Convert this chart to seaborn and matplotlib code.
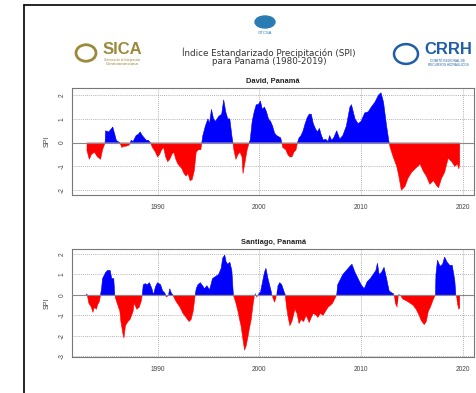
import numpy as np
import pandas as pd
import seaborn as sns
import matplotlib.pyplot as plt
from matplotlib.lines import Line2D
from matplotlib.patches import Circle, Ellipse

# SPI values (decimal year, SPI)
david_year = [1983.05, 1983.3, 1983.5, 1983.8, 1984.1, 1984.4, 1984.6, 1984.85, 1984.9, 1985.2,
              1985.5, 1985.6, 1985.8, 1985.95, 1986.1, 1986.3, 1986.5, 1986.7, 1986.9, 1987.2,
              1987.35, 1987.4, 1987.6, 1987.9, 1988.1, 1988.3, 1988.5, 1988.7, 1988.9, 1989.1,
              1989.3, 1989.5, 1989.8, 1990.0, 1990.2, 1990.4, 1990.6, 1990.8, 1991.0, 1991.2,
              1991.4, 1991.6, 1991.8, 1992.0, 1992.2, 1992.4, 1992.6, 1992.8, 1993.0, 1993.2,
              1993.4, 1993.6, 1993.8, 1994.0, 1994.25, 1994.35, 1994.45, 1994.7, 1994.95, 1995.1,
              1995.3, 1995.5, 1995.7, 1996.0, 1996.3, 1996.5, 1996.7, 1996.9, 1997.1, 1997.3,
              1997.4, 1997.5, 1997.7, 1997.9, 1998.1, 1998.3, 1998.4, 1998.6, 1998.8, 1999.0,
              1999.1, 1999.3, 1999.5, 1999.7, 1999.9, 2000.1, 2000.3, 2000.5, 2000.7, 2000.9,
              2001.1, 2001.3, 2001.5, 2001.7, 2001.9, 2002.1, 2002.2, 2002.3, 2002.6, 2002.8,
              2003.0, 2003.2, 2003.4, 2003.6, 2003.75, 2003.9, 2004.1, 2004.3, 2004.5, 2004.7,
              2004.9, 2005.1, 2005.3, 2005.5, 2005.7, 2005.9, 2006.1, 2006.3, 2006.5, 2006.75,
              2006.9, 2007.1, 2007.3, 2007.6, 2007.9, 2008.2, 2008.55, 2008.9, 2009.05, 2009.4,
              2009.7, 2010.0, 2010.35, 2010.7, 2011.0, 2011.35, 2011.7, 2011.95, 2012.2, 2012.5,
              2012.75, 2012.85, 2013.15, 2013.5, 2013.7, 2013.95, 2014.3, 2014.6, 2014.95, 2015.3,
              2015.8, 2016.1, 2016.4, 2016.75, 2017.1, 2017.4, 2017.6, 2017.9, 2018.2, 2018.55,
              2018.9, 2019.2, 2019.45, 2019.6, 2019.7]
david_spi = [-0.3, -0.7, -0.5, -0.4, -0.6, -0.7, -0.3, 0.0, 0.5, 0.45,
             0.6, 0.66, 0.35, 0.1, 0.05, 0.0, -0.2, -0.15, -0.15, -0.1,
             0.0, 0.1, 0.05, 0.3, 0.35, 0.45, 0.3, 0.2, 0.1, 0.1,
             0.0, -0.2, -0.4, -0.6, -0.5, -0.3, -0.2, -0.6, -0.8, -0.7,
             -0.5, -0.4, -0.7, -0.9, -1.0, -1.1, -1.3, -1.4, -1.3, -1.6,
             -1.55, -1.2, -0.4, -0.3, -0.3, 0.0, 0.3, 0.7, 1.0, 0.8,
             1.4, 1.0, 0.9, 1.1, 1.2, 1.8, 1.3, 1.0, 1.0, 0.3,
             0.0, -0.3, -0.7, -0.5, -0.4, -0.6, -1.3, -0.8, -0.3, 0.0,
             0.1, 0.9, 1.3, 1.6, 1.6, 1.75, 1.4, 1.5, 1.3, 1.0,
             0.9, 0.7, 0.4, 0.3, 0.25, 0.2, 0.0, -0.2, -0.3, -0.5,
             -0.6, -0.6, -0.4, -0.3, 0.0, 0.2, 0.3, 0.5, 0.8, 1.05,
             1.2, 1.2, 0.8, 0.6, 0.45, 0.6, 0.3, 0.1, 0.15, 0.05,
             0.3, 0.1, 0.2, 0.5, 0.15, 0.3, 0.7, 1.5, 1.6, 1.0,
             0.8, 0.9, 1.25, 1.3, 1.5, 1.7, 2.0, 2.1, 1.7, 0.7,
             0.0, -0.2, -0.6, -1.0, -1.4, -2.0, -1.85, -1.5, -1.25, -1.1,
             -0.9, -1.2, -1.4, -1.75, -1.6, -1.8, -1.9, -1.5, -1.25, -0.65,
             -0.8, -1.0, -0.9, -1.1, -0.8]

santiago_year = [1983.0, 1983.1, 1983.25, 1983.5, 1983.65, 1983.8, 1984.0, 1984.1, 1984.3, 1984.4,
                 1984.5, 1984.6, 1984.9, 1985.1, 1985.35, 1985.5, 1985.7, 1985.8, 1985.9, 1986.1,
                 1986.3, 1986.4, 1986.6, 1986.7, 1986.85, 1987.1, 1987.3, 1987.6, 1987.7, 1987.97,
                 1988.2, 1988.4, 1988.5, 1988.6, 1988.8, 1989.0, 1989.2, 1989.45, 1989.6, 1989.8,
                 1990.0, 1990.3, 1990.5, 1990.7, 1990.8, 1990.85, 1991.0, 1991.1, 1991.2, 1991.35,
                 1991.5, 1991.6, 1991.8, 1992.2, 1992.5, 1992.8, 1993.1, 1993.3, 1993.5, 1993.7,
                 1993.8, 1993.97, 1994.2, 1994.5, 1994.6, 1994.85, 1995.1, 1995.25, 1995.4, 1995.7,
                 1996.0, 1996.25, 1996.4, 1996.6, 1996.75, 1996.9, 1997.1, 1997.3, 1997.45, 1997.7,
                 1997.9, 1998.06, 1998.2, 1998.4, 1998.55, 1998.7, 1998.9, 1999.0, 1999.2, 1999.4,
                 1999.5, 1999.6, 1999.75, 1999.96, 2000.1, 2000.3, 2000.5, 2000.65, 2000.85, 2001.0,
                 2001.2, 2001.3, 2001.5, 2001.65, 2001.8, 2002.0, 2002.2, 2002.4, 2002.55, 2002.65,
                 2002.8, 2003.0, 2003.2, 2003.5, 2003.7, 2003.9, 2004.1, 2004.35, 2004.6, 2004.9,
                 2005.1, 2005.3, 2005.6, 2005.75, 2006.0, 2006.26, 2006.5, 2006.75, 2007.0, 2007.2,
                 2007.4, 2007.6, 2007.7, 2007.9, 2008.2, 2008.55, 2008.9, 2009.1, 2009.4, 2009.7,
                 2010.0, 2010.3, 2010.6, 2010.9, 2011.25, 2011.45, 2011.6, 2011.77, 2012.0, 2012.25,
                 2012.5, 2012.75, 2013.0, 2013.2, 2013.35, 2013.55, 2013.7, 2013.9, 2014.1, 2014.5,
                 2014.8, 2015.1, 2015.4, 2015.7, 2015.9, 2016.2, 2016.4, 2016.6, 2016.8, 2017.1,
                 2017.3, 2017.35, 2017.5, 2017.75, 2018.0, 2018.2, 2018.45, 2018.7, 2018.95, 2019.2,
                 2019.3, 2019.45, 2019.6, 2019.7]
santiago_spi = [0.05, 0.0, -0.4, -0.6, -0.85, -0.6, -0.7, -0.5, -0.3, 0.0,
                0.3, 0.8, 1.1, 1.2, 1.2, 0.8, 0.8, 0.0, -0.2, -0.5,
                -0.8, -1.3, -1.9, -2.1, -1.5, -1.3, -1.2, -0.8, -0.4, -0.7,
                -0.6, -0.3, 0.0, 0.5, 0.55, 0.5, 0.6, 0.3, 0.0, 0.4,
                0.6, 0.5, 0.2, 0.1, 0.0, -0.1, -0.05, 0.05, 0.3, 0.1,
                0.0, -0.1, -0.3, -0.6, -0.9, -1.1, -1.3, -1.2, -0.8, 0.0,
                0.3, 0.5, 0.6, 0.4, 0.3, 0.45, 0.25, 0.5, 0.8, 0.9,
                1.0, 1.3, 1.8, 1.95, 1.6, 1.5, 1.6, 1.2, 0.0, -0.4,
                -0.8, -1.2, -1.5, -2.2, -2.7, -2.5, -2.0, -1.7, -1.2, -0.4,
                -0.1, 0.1, -0.15, 0.1, 0.1, 0.6, 1.1, 1.3, 0.8, 0.5,
                0.1, -0.1, -0.35, -0.1, 0.4, 0.6, 0.5, 0.2, 0.0, -0.5,
                -1.0, -1.5, -1.3, -0.7, -0.9, -1.4, -1.2, -1.3, -1.0, -1.35,
                -1.1, -0.9, -1.0, -1.1, -0.9, -1.0, -0.8, -0.6, -0.5, -0.4,
                -0.2, 0.0, 0.5, 0.7, 1.0, 1.2, 1.4, 1.5, 1.1, 0.8,
                0.5, 0.3, 0.65, 0.8, 1.05, 1.2, 1.55, 1.0, 1.1, 1.35,
                0.8, 0.2, 0.1, 0.05, -0.4, -0.6, 0.05, -0.05, -0.2, -0.3,
                -0.4, -0.5, -0.7, -1.0, -1.25, -1.45, -1.3, -0.8, -0.6, -0.2,
                0.0, 1.0, 1.7, 1.4, 1.5, 1.85, 1.6, 1.45, 1.45, 0.7,
                0.05, -0.4, -0.7, -0.6]

stations = ["David, Panamá", "Santiago, Panamá"]
year_ticks = [1990, 2000, 2010, 2020]

sns.set_style("white")
plt.rcParams['font.family'] = ['Liberation Sans', 'DejaVu Sans']

fig = plt.figure(figsize=(4.77, 3.93), dpi=100)

panels = [
    (david_year, david_spi, [0.151, 0.504, 0.843, 0.272], (-2.2, 2.3), [-2, -1, 0, 1, 2]),
    (santiago_year, santiago_spi, [0.151, 0.092, 0.843, 0.274], (-3.03, 2.24), [-3, -2, -1, 0, 1, 2]),
]


def outline(ax, df, mask, color):
    # thin edge along the top of each wet / dry run, one unit per run
    part = df[mask].copy()
    part['run'] = (~mask).cumsum()[mask]
    sns.lineplot(data=part, x='year', y='spi', units='run', estimator=None,
                 color=color, lw=0.4, ax=ax, zorder=2)


for name, (yr, spi, pos, ylim, yticks) in zip(stations, panels):
    ax = fig.add_axes(pos)
    df = pd.DataFrame({'year': yr, 'spi': spi})
    x = df['year'].to_numpy()
    y = df['spi'].to_numpy()
    ax.fill_between(x, y, 0, where=y >= 0, interpolate=True, color='blue', lw=0, zorder=2)
    ax.fill_between(x, y, 0, where=y <= 0, interpolate=True, color='red', lw=0, zorder=2)
    outline(ax, df, df['spi'] >= 0, 'blue')
    outline(ax, df, df['spi'] <= 0, 'red')
    ax.axhline(0, color='#888888', lw=0.8, zorder=3)

    ax.set_xlim(1981.6, 2021.1)
    ax.set_ylim(*ylim)
    ax.set_xticks(year_ticks)
    ax.set_xticklabels([str(v) for v in year_ticks])
    ax.set_yticks(yticks)
    ax.set_yticklabels([str(v) for v in yticks])
    for v in year_ticks:
        ax.axvline(v, color='#999999', lw=0.6, ls=(0, (1, 1.5)), zorder=1)
    for v in yticks:
        ax.axhline(v, color='#999999', lw=0.6, ls=(0, (1, 1.5)), zorder=1)

    ax.tick_params(axis='both', length=2.5, width=0.5, color='#777777', labelsize=4.8,
                   labelcolor='#444444', pad=2)
    ax.tick_params(axis='x', pad=4)
    for lab in ax.get_yticklabels():
        lab.set_rotation(90)
        lab.set_va('center')
    for s in ax.spines.values():
        s.set_color('#777777')
        s.set_linewidth(0.8)
    ax.set_xlabel('')
    ax.set_ylabel('SPI', fontsize=5, color='#444444', labelpad=6)
    ax.set_title(name, fontsize=5.4, fontweight='bold', color='#222222', pad=4)

# page border
fig.add_artist(Line2D([24 / 477, 1.0], [1 - 5 / 393, 1 - 5 / 393], color='black', lw=1.2))
fig.add_artist(Line2D([24 / 477, 24 / 477], [0, 1 - 5 / 393], color='black', lw=1.2))

# header
fig.text(269 / 477, 1 - 53 / 393, 'Índice Estandarizado Precipitación (SPI)', ha='center', va='center',
         fontsize=6.3, color='#333333', family='DejaVu Sans')
fig.text(269 / 477, 1 - 62 / 393, 'para Panamá (1980-2019)', ha='center', va='center',
         fontsize=6.3, color='#333333', family='DejaVu Sans')

# GTCSA logo
fig.add_artist(Ellipse((265 / 477, 1 - 22 / 393), 20 / 477, 12 / 393, color='#2b7bb3'))
fig.text(265 / 477, 1 - 33 / 393, 'GTCSA', ha='center', va='center', fontsize=3, color='#2b7bb3')

# SICA logo
fig.add_artist(Circle((86 / 477, 1 - 53 / 393), 10 / 477, fill=False, ec='#9c8a3c', lw=2))
fig.text(122 / 477, 1 - 49 / 393, 'SICA', ha='center', va='center', fontsize=12,
         fontweight='bold', color='#9c8a3c')
fig.text(122 / 477, 1 - 60 / 393, 'Sistema de la Integración', ha='center', va='center',
         fontsize=2.3, color='#9c8a3c')
fig.text(122 / 477, 1 - 64 / 393, 'Centroamericana', ha='center', va='center',
         fontsize=3.2, color='#9c8a3c')

# CRRH logo
fig.add_artist(Circle((406 / 477, 1 - 54 / 393), 12 / 477, fill=False, ec='#1f5ea8', lw=1.8))
fig.text(448 / 477, 1 - 49 / 393, 'CRRH', ha='center', va='center', fontsize=12,
         fontweight='bold', color='#1f5ea8')
fig.text(448 / 477, 1 - 61 / 393, 'COMITÉ REGIONAL DE', ha='center', va='center',
         fontsize=2.3, color='#1f5ea8')
fig.text(448 / 477, 1 - 65 / 393, 'RECURSOS HIDRÁULICOS', ha='center', va='center',
         fontsize=2.3, color='#1f5ea8')

fig.savefig('out.png', dpi=100)
